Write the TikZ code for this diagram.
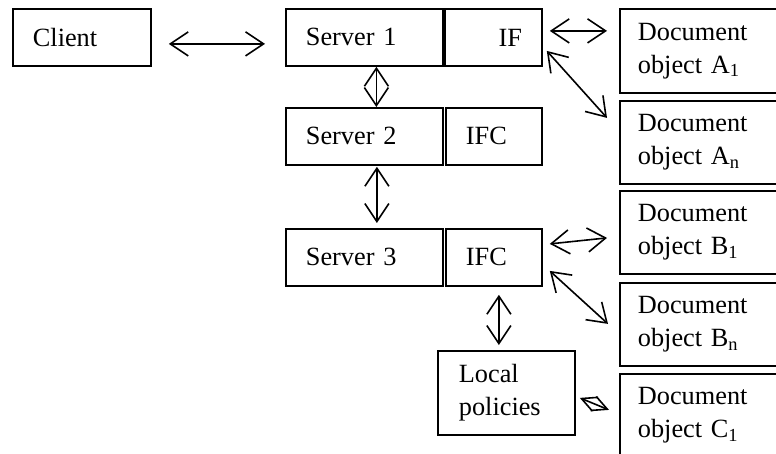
\documentclass[tikz,border=0pt]{standalone}
\usepackage{fontspec}
\setmainfont{Liberation Serif}
\usetikzlibrary{arrows.meta}

\begin{document}
\begin{tikzpicture}[x=1pt,y=-1pt,
    box/.style={draw, line width=1.8pt, anchor=north west, align=left,
        inner xsep=20pt, font=\fontsize{26.3}{33}\selectfont},
    doc/.style={box, inner xsep=18pt, text width=125pt, minimum width=161pt, minimum height=83pt},
    link/.style={line width=1.6pt, {Straight Barb[length=18pt,width=24pt]}-{Straight Barb[length=18pt,width=24pt]}},
    shortlink/.style={line width=1.6pt, {Straight Barb[length=15pt,width=15pt]}-{Straight Barb[length=15pt,width=15pt]}}]
            \useasboundingbox (0,0) rectangle (776,454);

            \node[box, text width=98pt, minimum width=138pt, minimum height=57pt] (client) at (12,8) {Client};

            \node[box, text width=117pt, minimum width=157pt, minimum height=57pt] (s1) at (285,8) {Server 1};
            \node[box, align=right, text width=57pt, minimum width=97pt, minimum height=57pt] (s1if) at (444,8) {IF};

            \node[box, text width=117pt, minimum width=157pt, minimum height=57pt] (s2) at (285,107) {Server 2};
            \node[box, text width=56pt, minimum width=96pt, minimum height=57pt] (s2ifc) at (445,107) {IFC};

            \node[box, text width=117pt, minimum width=157pt, minimum height=57pt] (s3) at (285,228) {Server 3};
            \node[box, text width=56pt, minimum width=96pt, minimum height=57pt] (s3ifc) at (445,228) {IFC};

            \node[box, inner xsep=21pt, text width=95pt, minimum width=137pt, minimum height=84pt] (local) at (437,350) {Local\\policies};

            \node[doc, minimum height=84pt] (a1) at (619,8) {Document\\object A\textsubscript{1}};
            \node[doc] (an) at (619,100) {Document\\object A\textsubscript{n}};
            \node[doc] (b1) at (619,190) {Document\\object B\textsubscript{1}};
            \node[doc] (bn) at (619,282) {Document\\object B\textsubscript{n}};
            \node[doc] (c1) at (619,373) {Document\\object C\textsubscript{1}};

            \draw[link] ([xshift=17pt,yshift=-6.5pt]client.east) -- ([xshift=-20pt,yshift=-6.5pt]s1.west);
            \draw[link] ([xshift=7pt,yshift=6.5pt]s1if.east) -- ([xshift=-12pt,yshift=20pt]a1.west);
            \draw[link] ([xshift=4pt,yshift=-13.5pt]s1if.east) -- ([xshift=-12pt,yshift=24.5pt]an.west);
            \draw[link] ([xshift=12pt]s1.south) -- ([xshift=12pt]s2.north);
            \draw[link] ([xshift=12.5pt,yshift=-1pt]s2.south) -- ([xshift=12.5pt,yshift=5pt]s3.north);
            \draw[link] ([xshift=7pt,yshift=13.5pt]s3ifc.east) -- ([xshift=-12pt,yshift=-5.5pt]b1.west);
            \draw[link] ([xshift=7pt,yshift=-13.5pt]s3ifc.east) -- ([xshift=-11pt,yshift=0.5pt]bn.west);
            \draw[link] ([xshift=5pt,yshift=-8pt]s3ifc.south) -- ([xshift=-7.5pt,yshift=5pt]local.north);
            \draw[shortlink] ([xshift=4pt,yshift=-5pt]local.east) -- ([xshift=-10pt,yshift=5.5pt]c1.west);
\end{tikzpicture}
\end{document}
